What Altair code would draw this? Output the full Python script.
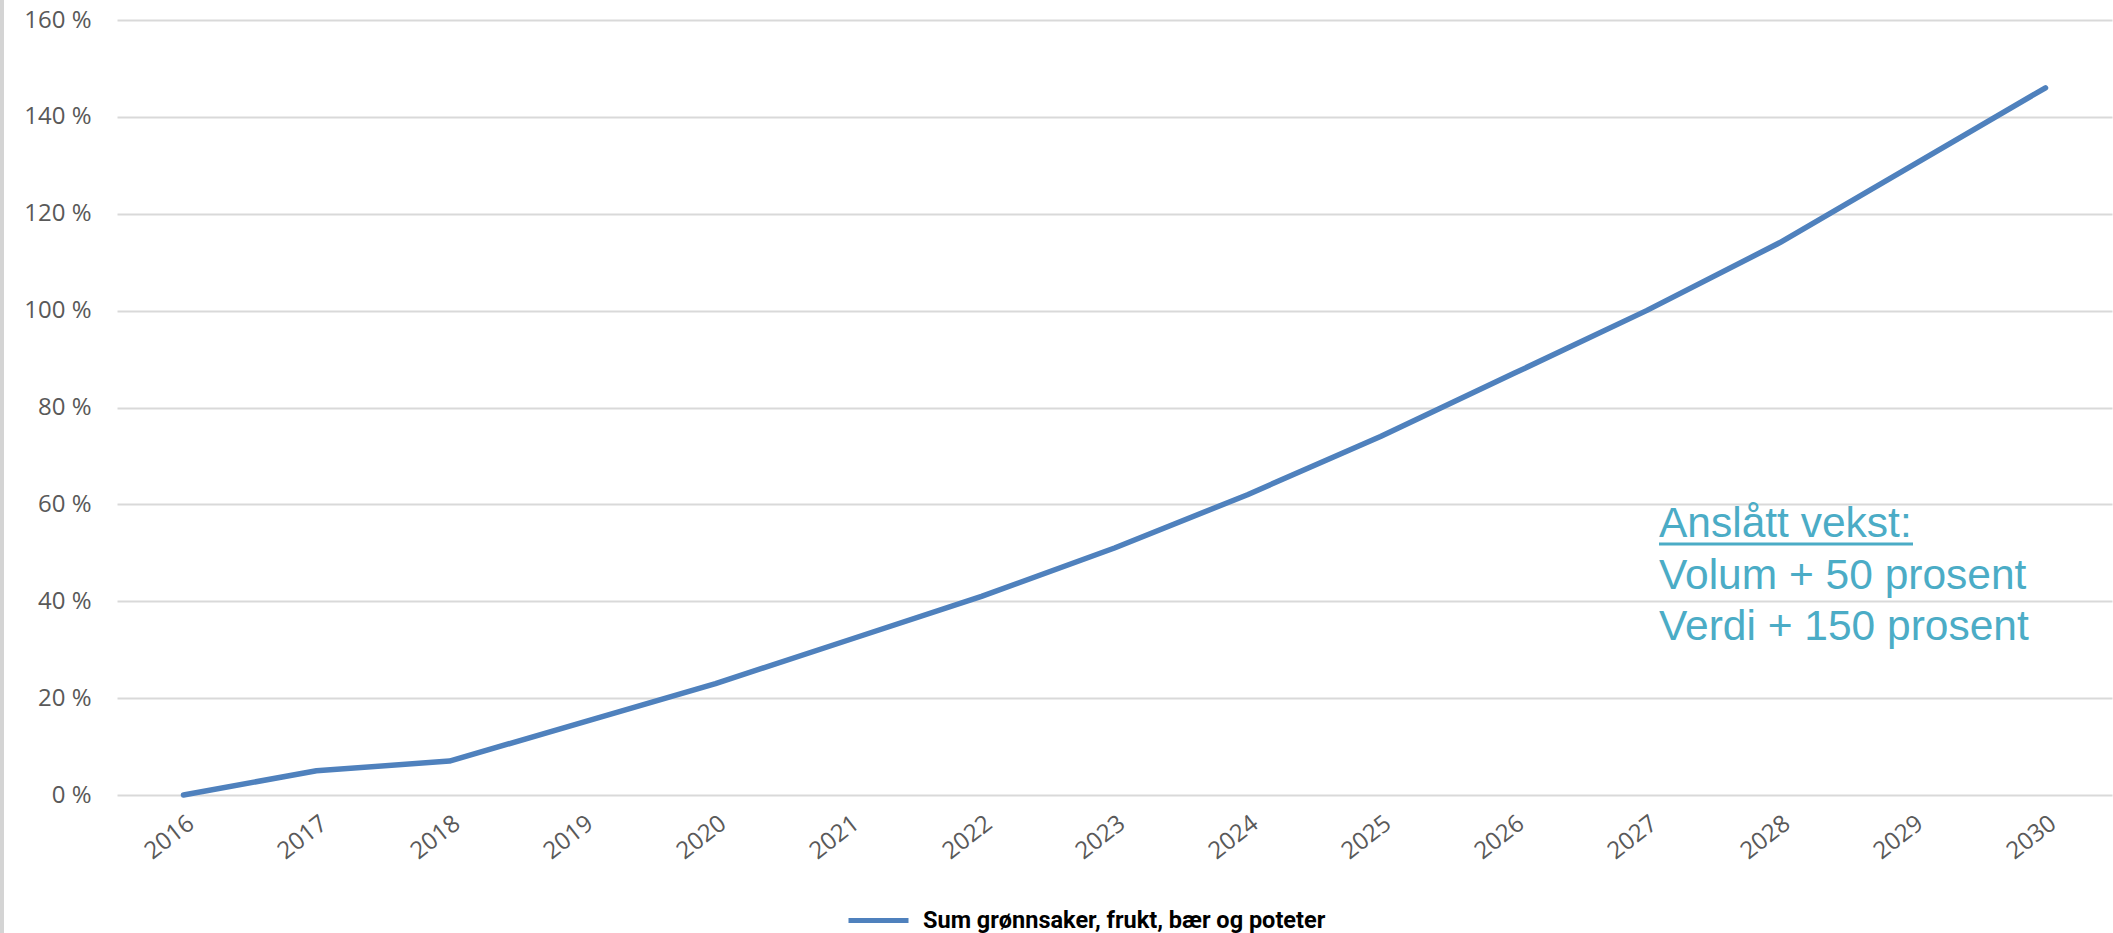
import altair as alt
import pandas as pd

years = ["2016", "2017", "2018", "2019", "2020", "2021", "2022", "2023",
         "2024", "2025", "2026", "2027", "2028", "2029", "2030"]
values = [0, 5, 7, 15, 23, 32, 41, 51, 62, 74, 87, 100, 114, 130, 146]
series_name = "Sum grønnsaker, frukt, bær og poteter"
y_ticks = [0, 20, 40, 60, 80, 100, 120, 140, 160]
note_lines = ["Anslått vekst:", "Volum + 50 prosent", "Verdi + 150 prosent"]

df = pd.DataFrame({"year": years, "value": values, "series": [series_name] * len(years)})

W, H = 1995, 775
LABEL_COLOR = "#595959"
LINE_COLOR = "#4F81BD"
NOTE_COLOR = "#4BACC6"

base = alt.Chart(df)

line = base.mark_line(strokeWidth=5.5, strokeCap="round", strokeJoin="round").encode(
    x=alt.X("year:O", sort=years,
            scale=alt.Scale(type="point", padding=0.5),
            axis=alt.Axis(title=None, labelAngle=-38, labelFont="Open Sans",
                          labelFontSize=24, labelColor=LABEL_COLOR, labelPadding=16,
                          ticks=False, domain=False, grid=False)),
    y=alt.Y("value:Q", scale=alt.Scale(domain=[0, 160], nice=False),
            axis=alt.Axis(title=None, values=y_ticks, labelExpr="datum.value + ' %'",
                          labelFont="Open Sans", labelFontSize=24, labelColor=LABEL_COLOR,
                          labelPadding=26, ticks=False, domain=False,
                          grid=True, gridColor="#D9D9D9", gridWidth=2)),
    color=alt.Color("series:N", scale=alt.Scale(range=[LINE_COLOR]),
                    legend=alt.Legend(title=None, orient="none", legendX=729, legendY=868,
                                      symbolType="stroke", symbolSize=3600,
                                      symbolStrokeWidth=5, labelFont="Roboto",
                                      labelFontWeight="bold", labelFontSize=23.5,
                                      labelColor="#000000", labelLimit=800,
                                      labelOffset=12, padding=0)),
)

note_df = pd.DataFrame({"text": note_lines, "row": [0, 1, 2]})
notes = alt.Chart(note_df).mark_text(
    align="left", baseline="alphabetic", font="Liberation Sans", fontSize=42.5,
    color=NOTE_COLOR
).encode(
    x=alt.value(1542),
    y=alt.Y("row:O", scale=alt.Scale(type="point", range=[517, 620], padding=0), axis=None),
    text="text:N",
)

underline = alt.Chart(pd.DataFrame({"a": [0]})).mark_rule(
    color=NOTE_COLOR, strokeWidth=3
).encode(x=alt.value(1542), x2=alt.value(1796), y=alt.value(524))

left_border = alt.Chart(pd.DataFrame({"a": [0]})).mark_rule(
    color="#D4D4D4", strokeWidth=4
).encode(x=alt.value(-115), y=alt.value(-20), y2=alt.value(913))

chart = alt.layer(line, notes, underline, left_border).resolve_scale(y="independent").properties(
    width=W, height=H,
    padding={"left": 117, "top": 20, "right": 1, "bottom": 138},
    autosize=alt.AutoSizeParams(type="none"),
    background="white",
).configure_view(stroke=None)

chart.save("out.html", embed_options={"renderer": "svg", "actions": False})
